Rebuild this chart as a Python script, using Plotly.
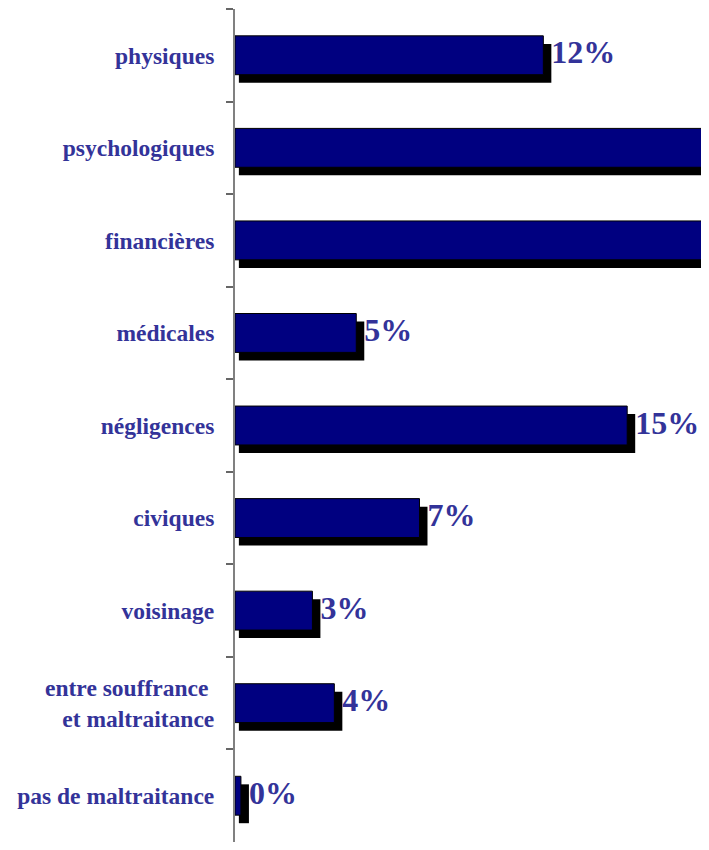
import plotly.graph_objects as go

# Catégories et valeurs (en %)
categories = ["physiques", "psychologiques", "financières", "médicales", "négligences",
              "civiques", "voisinage", "entre souffrance <br> et maltraitance", "pas de maltraitance"]
valeurs = [11.95, 21.0, 20.0, 4.7, 15.2, 7.15, 3.0, 3.85, 0.23]
# les étiquettes des deux barres coupées ne sont pas visibles sur l'original
etiquettes = ["12%", "", "", "5%", "15%", "7%", "3%", "4%", "0%"]

police = "Liberation Serif, Times New Roman, serif"
bleu_texte = "#333399"

fig = go.Figure()

# Ombre portée (noire), décalée à droite et vers le bas
fig.add_trace(go.Bar(
    y=categories, x=[v + 0.16 for v in valeurs], base=[0.15] * len(valeurs),
    orientation="h", width=0.42, offset=-0.21 + 0.087,
    marker=dict(color="black", line=dict(width=0)),
    hoverinfo="skip", showlegend=False,
))

# Barres principales
fig.add_trace(go.Bar(
    y=categories, x=valeurs, orientation="h", width=0.42, offset=-0.21,
    marker=dict(color="#000080", line=dict(color="black", width=1)),
    showlegend=False,
))

# Étiquettes des valeurs
fig.add_trace(go.Scatter(
    y=categories, x=[v + 0.31 for v in valeurs], mode="text",
    text=etiquettes, textposition="middle right",
    textfont=dict(family=police, size=32, color=bleu_texte, weight="bold"),
    showlegend=False, hoverinfo="skip",
))

fig.update_layout(
    width=693, height=834,
    margin=dict(l=227, r=0, t=1, b=0),
    barmode="overlay",
    plot_bgcolor="white", paper_bgcolor="white",
    xaxis=dict(range=[0, 18.06], showticklabels=False, showgrid=False,
               zeroline=False, showline=False, ticks=""),
    yaxis=dict(autorange="reversed", showgrid=False, zeroline=False,
               showline=True, linecolor="#808080", linewidth=2,
               ticks="outside", tickson="boundaries", ticklen=7,
               tickcolor="#666666", tickwidth=2, ticklabelstandoff=14,
               tickfont=dict(family=police, size=23.5, color=bleu_texte, weight="bold")),
)

fig.write_html("out.html")
